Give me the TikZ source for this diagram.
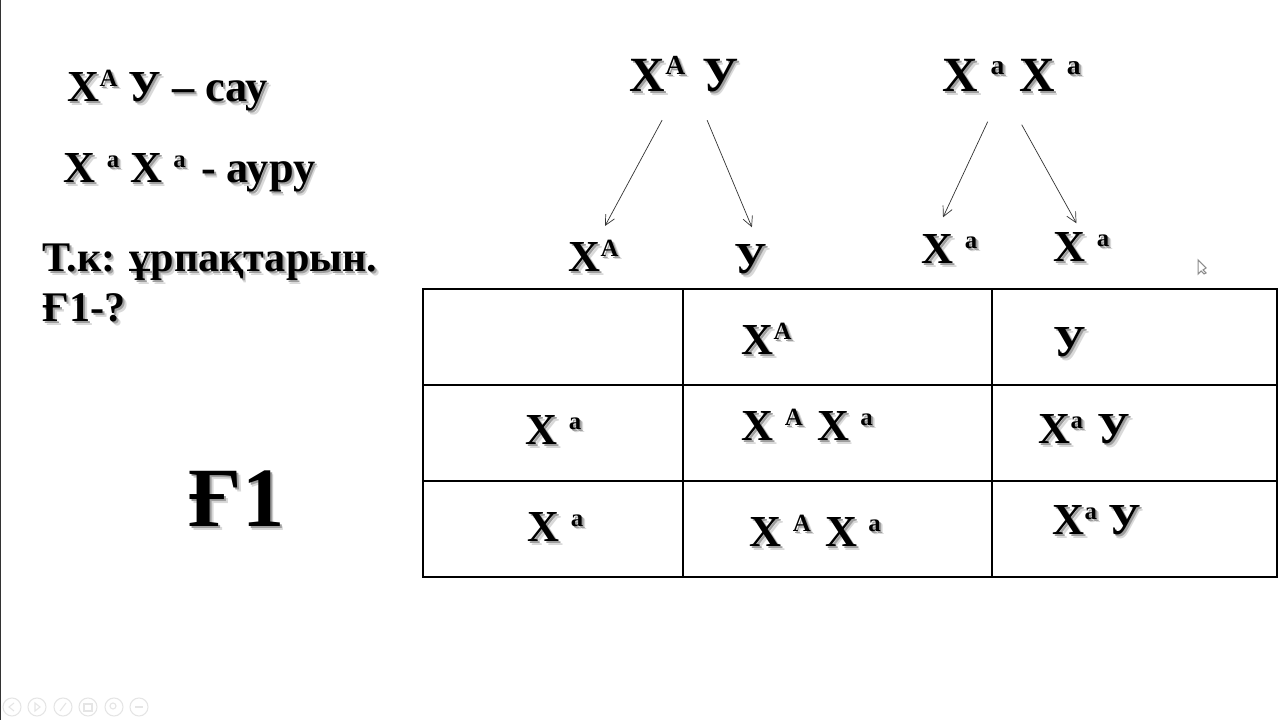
\documentclass[tikz,border=0pt]{standalone}
\usepackage{fontspec}
\setmainfont{Liberation Serif}
\usetikzlibrary{arrows.meta,calc}
\tikzset{
 geneT/.style={font=\bfseries\fontsize{12pt}{15pt}\selectfont, inner sep=0pt, anchor=base west},
 geneM/.style={font=\bfseries\fontsize{12.6pt}{15pt}\selectfont, inner sep=0pt, anchor=base west},
 geneL/.style={font=\bfseries\fontsize{14pt}{17pt}\selectfont, inner sep=0pt, anchor=base west},
 geneH/.style={font=\bfseries\fontsize{24pt}{27pt}\selectfont, inner sep=0pt, anchor=base west},
 arr/.style={-{Straight Barb[length=1mm,width=1mm]}, line width=.2pt, black!80},
 grid/.style={line width=.34pt, black},
 tool/.style={draw=black!10, line width=.3pt}
}
% superscript letter of a gene
\newcommand{\up}[1]{\raisebox{.36em}{\fontsize{\the\dimexpr.56em\relax}{1em}\selectfont #1}}
% text with its soft shadow: style, name, position, text
\newcommand{\gene}[4]{
 \node[#1, text=black!15] at ($#3+(.035,-.035)$) {#4};
 \node[#1, text=black!38] at ($#3+(.02,-.02)$) {#4};
 \node[#1] (#2) at #3 {#4};
}
\begin{document}
\begin{tikzpicture}
 \useasboundingbox (0,0) rectangle (12.8,7.2);
 \fill[white] (0,0) rectangle (12.8,7.2);
 \draw[line width=.6pt, black!80] (0,0) -- (0,7.2);
%
 \gene{geneM}{sick1}{(.67,6.18)}{Х\up{А} У – сау}
 \gene{geneM}{sick2}{(.63,5.37)}{Х \up{а} Х \up{а}\hspace{.1em} - ауру}
 \gene{geneT}{task1}{(.42,4.48)}{Т.к: ұрпақтарын.}
 \gene{geneT}{task2}{(.42,3.98)}{Ғ1-?}
 \gene{geneH}{fone}{(1.88,1.93)}{Ғ1}
%
 \gene{geneL}{dad}{(6.29,6.28)}{Х\up{А}\hspace{.1em} У}
 \gene{geneL}{mom}{(9.42,6.28)}{Х \up{а}\hspace{.05em} Х \up{а}}
 \gene{geneM}{gamA}{(5.68,4.48)}{Х\up{А}}
 \gene{geneM}{gamY}{(7.34,4.46)}{У}
 \gene{geneM}{gamB}{(9.21,4.56)}{Х \up{а}}
 \gene{geneM}{gamC}{(10.53,4.58)}{Х \up{а}}
%
 \draw[arr] ([xshift=-.22cm,yshift=-.27cm]dad.south) -- ([xshift=.37cm,yshift=.13cm]gamA.north west);
 \draw[arr] ([xshift=.23cm,yshift=-.27cm]dad.south) -- ([xshift=-.16cm,yshift=.17cm]gamY.north east);
 \draw[arr] ([xshift=-.24cm,yshift=-.29cm]mom.south) -- ([xshift=.22cm,yshift=.17cm]gamB.north west);
 \draw[arr] ([xshift=.1cm,yshift=-.32cm]mom.south) -- ([xshift=-.05cm,yshift=.09cm]gamC.north);
%
 \draw[grid] (4.23,1.43) rectangle (12.77,4.31);
 \foreach \x in {6.83,9.92} \draw[grid] (\x,1.43) -- (\x,4.31);
 \foreach \y in {2.39,3.35} \draw[grid] (4.23,\y) -- (12.77,\y);
%
 \gene{geneM}{headA}{(7.41,3.65)}{Х\up{А}}
 \gene{geneM}{headY}{(10.53,3.63)}{У}
 \gene{geneM}{rowA}{(5.25,2.75)}{Х \up{а}}
 \gene{geneM}{rowB}{(5.27,1.78)}{Х \up{а}}
 \gene{geneM}{cellAA}{(7.41,2.79)}{Х \up{А}\hspace{.08em} Х \up{а}}
 \gene{geneM}{cellAY}{(10.38,2.76)}{Х\up{а}\hspace{.08em} У}
 \gene{geneM}{cellBA}{(7.49,1.73)}{Х \up{А}\hspace{.08em} Х \up{а}}
 \gene{geneM}{cellBY}{(10.52,1.85)}{Х\up{а} У}
%
 % slide show buttons
 \foreach \x in {.12,.37,.63,.88,1.14,1.39} \draw[tool] (\x,.13) circle (.09);
 \draw[tool] (.14,.17) -- (.09,.13) -- (.14,.09);
 \draw[tool] (.35,.17) -- (.4,.13) -- (.35,.09) -- cycle;
 \draw[tool] (.6,.09) -- (.66,.17);
 \draw[tool] (.84,.09) rectangle (.92,.16);
 \draw[tool] (1.13,.14) circle (.03);
 \draw[tool] (1.35,.13) -- (1.43,.13);
 \draw[black!45, line width=.3pt, fill=white] (11.98,4.6) -- (11.98,4.46) -- (12.01,4.49) -- (12.04,4.46) -- (12.06,4.47) -- (12.03,4.5) -- (12.06,4.52) -- cycle;
\end{tikzpicture}
\end{document}
